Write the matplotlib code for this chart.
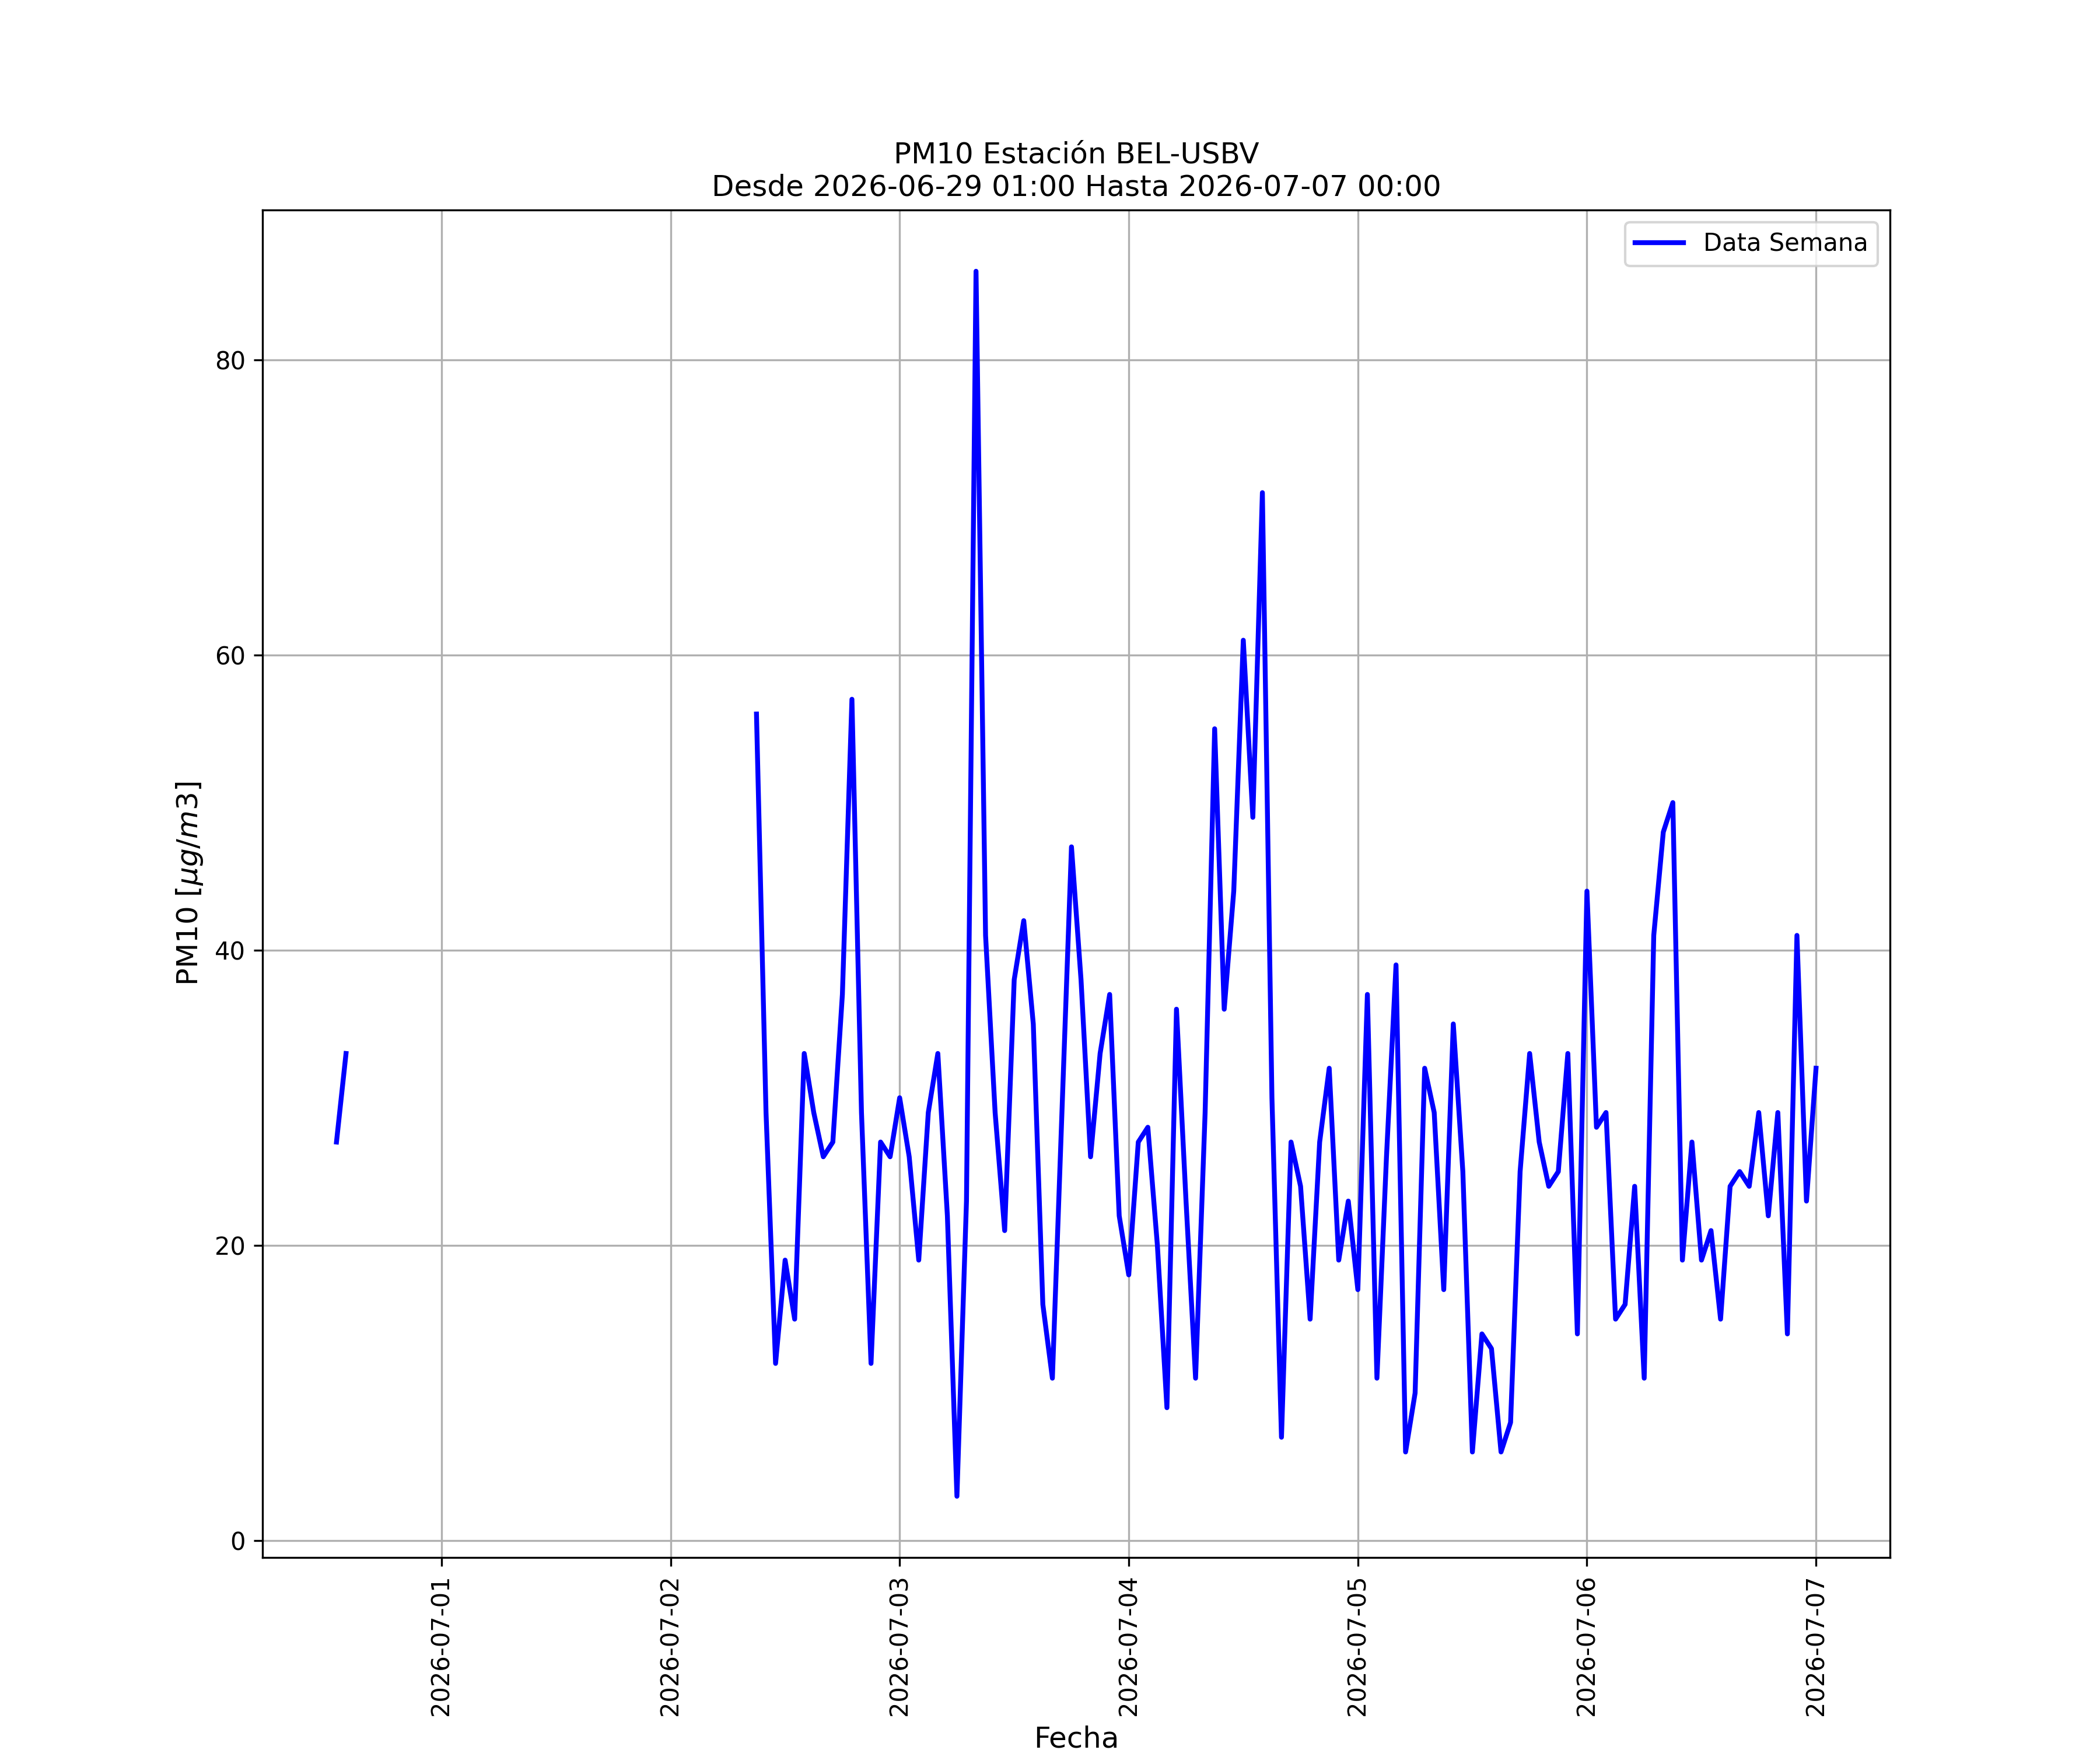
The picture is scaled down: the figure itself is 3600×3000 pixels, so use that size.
import numpy as np
import pandas as pd
import matplotlib
matplotlib.use("Agg")
import matplotlib.pyplot as plt

# hourly PM10 readings, station BEL-USBV (gaps are missing data)
period_start = "2026-06-29 01:00"
period_end = "2026-07-07 00:00"

seg1_start = "2026-06-30 13:00"
seg1_values = [27, 33]

seg2_start = "2026-07-02 09:00"
seg2_values = [
    56, 29, 12, 19, 15, 33, 29, 26, 27, 37,
    57, 29, 12, 27, 26, 30, 26, 19, 29, 33,
    22, 3, 23, 86, 41, 29, 21, 38, 42, 35,
    16, 11, 29, 47, 38, 26, 33, 37, 22, 18,
    27, 28, 20, 9, 36, 23, 11, 29, 55, 36,
    44, 61, 49, 71, 30, 7, 27, 24, 15, 27,
    32, 19, 23, 17, 37, 11, 26, 39, 6, 10,
    32, 29, 17, 35, 25, 6, 14, 13, 6, 8,
    25, 33, 27, 24, 25, 33, 14, 44, 28, 29,
    15, 16, 24, 11, 41, 48, 50, 19, 27, 19,
    21, 15, 24, 25, 24, 29, 22, 29, 14, 41,
    23, 32,
]

idx = pd.date_range(period_start, period_end, freq="h")
pm10 = pd.Series(np.nan, index=idx)
for start, vals in [(seg1_start, seg1_values), (seg2_start, seg2_values)]:
    t = pd.date_range(start, periods=len(vals), freq="h")
    pm10.loc[t] = vals

fig, ax = plt.subplots(figsize=(12, 10))
ax.plot(pm10.index, pm10.values, color="blue", linewidth=2, label="Data Semana")
ax.set_title("PM10 Estación BEL-USBV\nDesde %s Hasta %s" % (period_start, period_end),
             fontsize=12)
ax.set_xlabel("Fecha", fontsize=12)
ax.set_ylabel(r"PM10 [$\mu g/m3$]", fontsize=12)
ax.grid(True)
ax.legend(loc="upper right")
plt.setp(ax.get_xticklabels(), rotation=90)

fig.savefig("out.png", dpi=300)
